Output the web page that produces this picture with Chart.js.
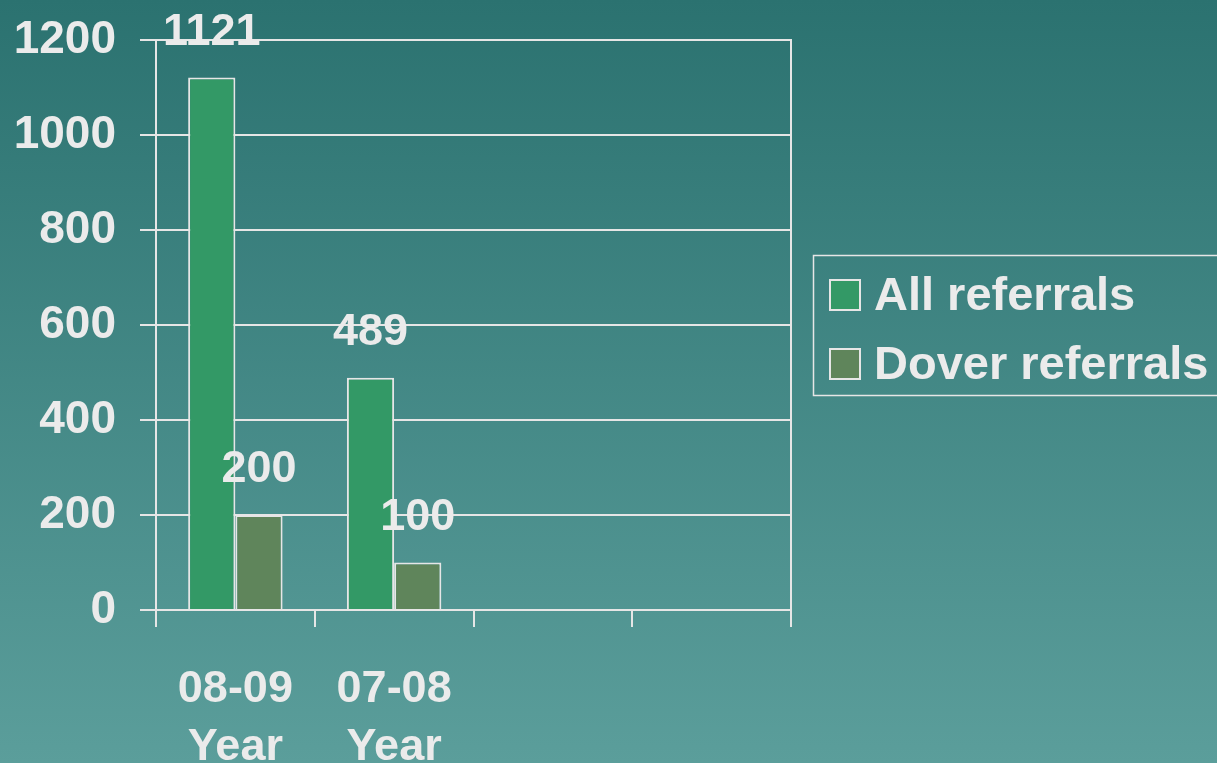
<!DOCTYPE html>
<html>
<head>
<meta charset="utf-8">
<script src="https://cdn.jsdelivr.net/npm/chart.js@4"></script>
<style>
  html, body { margin: 0; padding: 0; overflow: hidden; }
  body { width: 1217px; height: 763px; background: linear-gradient(to bottom, #2b7270 0%, #5b9e9b 100%); }
  #wrap { width: 1217px; height: 763px; }
</style>
</head>
<body>
<div id="wrap"><canvas id="chart"></canvas></div>
<script>
const categories = [["08-09", "Year"], ["07-08", "Year"], "", ""];
const allReferrals = [1121, 489, null, null];
const doverReferrals = [200, 100, null, null];
const seriesNames = ["All referrals", "Dover referrals"];
const yTicks = [0, 200, 400, 600, 800, 1000, 1200];

const textColor = "#ebebeb";
const lineColor = "#e6e6e6";
const font = "Liberation Sans, Arial, sans-serif";

const ctx = document.getElementById("chart").getContext("2d");

// value labels above each bar
const valueLabels = {
  id: "valueLabels",
  afterDatasetsDraw(chart) {
    const c = chart.ctx;
    c.save();
    c.font = "bold 45px " + font;
    c.fillStyle = textColor;
    c.textAlign = "center";
    c.textBaseline = "middle";
    chart.data.datasets.forEach((ds, i) => {
      chart.getDatasetMeta(i).data.forEach((bar, j) => {
        if (ds.data[j] == null) return;
        c.fillText(String(ds.data[j]), bar.x, bar.y - 45);
      });
    });
    c.restore();
  }
};

// boxed legend on the right
const boxLegend = {
  id: "boxLegend",
  afterDraw(chart) {
    const c = chart.ctx;
    c.save();
    c.strokeStyle = lineColor;
    c.lineWidth = 1.5;
    c.strokeRect(813.5, 255.5, 420, 140);
    c.font = "bold 47px " + font;
    c.textBaseline = "middle";
    chart.data.datasets.forEach((ds, i) => {
      const y = 295 + i * 69;
      c.fillStyle = ds.backgroundColor;
      c.fillRect(830, y - 15, 30, 30);
      c.lineWidth = 2;
      c.strokeStyle = lineColor;
      c.strokeRect(830, y - 15, 30, 30);
      c.fillStyle = textColor;
      c.fillText(ds.label, 874, y + 2);
    });
    c.restore();
  }
};

new Chart(ctx, {
  type: "bar",
  data: {
    labels: categories,
    datasets: [
      {
        label: seriesNames[0],
        data: allReferrals,
        backgroundColor: "#339966",
        borderColor: lineColor,
        borderWidth: 2,
        borderSkipped: "bottom"
      },
      {
        label: seriesNames[1],
        data: doverReferrals,
        backgroundColor: "#5f855b",
        borderColor: lineColor,
        borderWidth: 2,
        borderSkipped: "bottom"
      }
    ]
  },
  options: {
    responsive: true,
    maintainAspectRatio: false,
    animation: false,
    devicePixelRatio: 1,
    categoryPercentage: 0.595,
    barPercentage: 1.0,
    layout: { padding: { top: 40, right: 426, left: 0, bottom: 0 } },
    plugins: {
      legend: { display: false },
      tooltip: { enabled: false }
    },
    scales: {
      x: {
        offset: true,
        grid: {
          offset: true,
          drawOnChartArea: false,
          color: lineColor,
          lineWidth: 2,
          tickLength: 17
        },
        border: { display: true, color: lineColor, width: 2 },
        ticks: {
          color: textColor,
          font: { family: font, size: 45, weight: "bold", lineHeight: 1.3 },
          padding: 33,
          maxRotation: 0,
          autoSkip: false
        },
        afterFit(scale) { scale.height = 153; }
      },
      y: {
        min: 0,
        max: 1200,
        afterBuildTicks(scale) { scale.ticks = yTicks.map(v => ({ value: v })); },
        grid: {
          color: lineColor,
          lineWidth: 2,
          tickLength: 16
        },
        border: { display: true, color: lineColor, width: 2 },
        ticks: {
          color: textColor,
          font: { family: font, size: 46, weight: "bold", lineHeight: 0.5 },
          padding: 24,
          callback: (v) => String(v)
        },
        afterFit(scale) {
          scale.width = 156;
          scale.paddingTop = 0;
          scale.paddingBottom = 0;
        }
      },
      yRight: {
        position: "right",
        min: 0,
        max: 1200,
        grid: { display: false },
        ticks: { display: false },
        border: { display: true, color: lineColor, width: 2 },
        afterFit(scale) { scale.width = 0; }
      }
    }
  },
  plugins: [valueLabels, boxLegend]
});
</script>
</body>
</html>
